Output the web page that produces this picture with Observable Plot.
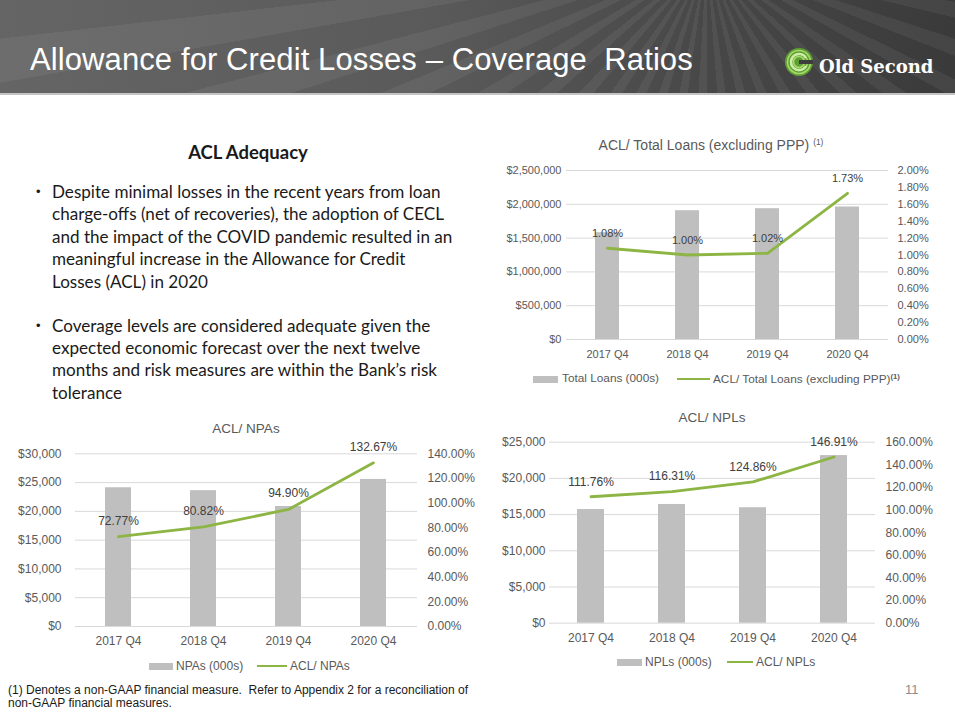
<!DOCTYPE html>
<html>
<head>
<meta charset="utf-8">
<script src="https://cdn.jsdelivr.net/npm/d3@7"></script>
<script src="https://cdn.jsdelivr.net/npm/@observablehq/plot@0.6"></script>
<style>
  html, body { margin: 0; padding: 0; }
  body { width: 955px; height: 716px; position: relative; overflow: hidden; background: #fff; font-family: "Liberation Sans", Arial, sans-serif; }
  .abs { position: absolute; }
  #header { left: 0; top: 0; width: 955px; height: 93px;
    background:
      repeating-conic-gradient(from 180deg at 74% -45%, rgba(255,255,255,0.055) 0deg 3.5deg, rgba(0,0,0,0.0) 3.5deg 8deg),
      linear-gradient(90deg, #656565 0%, #5a5a5a 45%, #474747 75%, #3a3a3a 100%);
  }
  #hline { left: 0; top: 93px; width: 955px; height: 2px; background: #c4c4c4; }
  #title { left: 30px; top: 43.8px; font-size: 31px; line-height: 1; color: #fff; white-space: nowrap; letter-spacing: 0.1px; }
  #logoText { left: 819px; top: 58px; font-family: "DejaVu Serif", serif; font-weight: bold; font-size: 18px; line-height: 1; color: #fff; white-space: nowrap; }
  .ctitle { transform: translate(-50%, -50%); line-height: 1; color: #595959; white-space: nowrap; }
  .ctitle sup { font-size: 0.6em; vertical-align: 0.6em; }
  .leg { line-height: 1; color: #595959; white-space: nowrap; transform: translateY(-50%); }
  .leg sup { font-size: 0.65em; font-weight: bold; vertical-align: 0.5em; }
  .txt { font-family: Lato, "Open Sans", sans-serif; color: #1a1a1a; white-space: nowrap; }
</style>
</head>
<body>
<div id="header" class="abs"></div>
<div id="hline" class="abs"></div>
<div id="title" class="abs">Allowance for Credit Losses – Coverage&nbsp; Ratios</div>
<svg class="abs" style="left:784px;top:47px" width="30" height="30" viewBox="0 0 30 30">
  <circle cx="15" cy="15" r="14" fill="#5e9f33"/>
  <circle cx="15" cy="15" r="11.5" fill="none" stroke="#a6d86e" stroke-width="1.6"/>
  <circle cx="15" cy="15" r="8.5" fill="none" stroke="#a6d86e" stroke-width="1.6"/>
  <circle cx="15" cy="15" r="5.5" fill="none" stroke="#a6d86e" stroke-width="1.6"/>
  <path d="M22 11 A8 8 0 1 0 22 19" fill="none" stroke="#cdeca6" stroke-width="2.4"/>
  <rect x="15" y="13" width="14" height="4" fill="#3d3d3d"/>
</svg>
<div id="logoText" class="abs">Old Second</div>

<div id="page"></div>

<div class="abs txt" style="left:38px;top:141px;width:420px;text-align:center;font-weight:bold;font-size:18.5px;line-height:22px;">ACL Adequacy</div>
<div id="bullets"></div>

<div class="abs" style="left:8px;top:684px;font-family:'Liberation Sans Narrow','Liberation Sans',Arial,sans-serif;font-size:12px;line-height:13px;color:#1a1a1a;white-space:nowrap;">(1) Denotes a non-GAAP financial measure.&nbsp; Refer to Appendix 2 for a reconciliation of<br>non-GAAP financial measures.</div>
<div class="abs" style="left:905px;top:683px;font-size:13px;line-height:1;color:#8c8c8c;">11</div>

<script>
// ---------- DATA ----------
const quarters = ["2017 Q4", "2018 Q4", "2019 Q4", "2020 Q4"];

const totalLoans = [1580000, 1905000, 1935000, 1960000];      // Total Loans (000s)
const aclLoansPct = [1.08, 1.00, 1.02, 1.73];                 // ACL/ Total Loans (excluding PPP)

const npas = [24100, 23600, 20850, 25550];                    // NPAs (000s)
const aclNpasPct = [72.77, 80.82, 94.90, 132.67];             // ACL/ NPAs

const npls = [15700, 16400, 15950, 23150];                    // NPLs (000s)
const aclNplsPct = [111.76, 116.31, 124.86, 146.91];          // ACL/ NPLs

const loansTicks = [0, 500000, 1000000, 1500000, 2000000, 2500000];
const loansPctTicks = [0, 0.2, 0.4, 0.6, 0.8, 1.0, 1.2, 1.4, 1.6, 1.8, 2.0];
const npaTicks = [0, 5000, 10000, 15000, 20000, 25000, 30000];
const npaPctTicks = [0, 20, 40, 60, 80, 100, 120, 140];
const nplTicks = [0, 5000, 10000, 15000, 20000, 25000];
const nplPctTicks = [0, 20, 40, 60, 80, 100, 120, 140, 160];

const bulletLines1 = [
  "Despite minimal losses in the recent years from loan",
  "charge-offs (net of recoveries), the adoption of CECL",
  "and the impact of the COVID pandemic resulted in an",
  "meaningful increase in the Allowance for Credit",
  "Losses (ACL) in 2020"
];
const bulletLines2 = [
  "Coverage levels are considered adequate given the",
  "expected economic forecast over the next twelve",
  "months and risk measures are within the Bank’s risk",
  "tolerance"
];

// ---------- STYLE ----------
const green = "#8db544";
const barGray = "#bfbfbf";
const gridGray = "#d9d9d9";
const axisText = "#595959";

// ---------- BULLET TEXT ----------
(function () {
  const c = document.createElement("canvas").getContext("2d");
  c.font = "17px Lato";
  const w = c.measureText(bulletLines1[2]).width;
  const fs = Math.max(14, Math.min(19, 17 * 401 / w));
  const host = document.getElementById("bullets");
  const groups = [[bulletLines1, 181], [bulletLines2, 314.5]];
  for (const [lines, top] of groups) {
    const b = document.createElement("div");
    b.className = "abs";
    b.style.cssText = `left:36px;top:${top}px;font-family:'Liberation Sans',Arial,sans-serif;font-size:13px;line-height:22.4px;color:#1a1a1a;`;
    b.textContent = "•";
    host.appendChild(b);
    const d = document.createElement("div");
    d.className = "abs txt";
    d.style.cssText = `left:52px;top:${top}px;font-size:${fs}px;line-height:22.4px;`;
    d.innerHTML = lines.join("<br>");
    host.appendChild(d);
  }
})();

// ---------- CHARTS ----------
const page = document.getElementById("page");

function place(el, left, top) {
  el.style.position = "absolute";
  el.style.left = left + "px";
  el.style.top = top + "px";
  page.appendChild(el);
}

function addDiv(html, cls, style) {
  const d = document.createElement("div");
  d.className = "abs " + cls;
  d.style.cssText = style;
  d.innerHTML = html;
  page.appendChild(d);
}

function chart(cfg) {
  const k = cfg.yMax / cfg.pctMax;
  const data = quarters.map((q, i) => ({ q, bar: cfg.bars[i], pct: cfg.pcts[i], yl: cfg.pcts[i] * k }));
  const fmtLeft = d => "$" + d3.format(",")(d);
  const svg = Plot.plot({
    width: cfg.width,
    height: cfg.height,
    marginLeft: cfg.mL, marginRight: cfg.mR, marginTop: cfg.mT, marginBottom: cfg.mB,
    x: { domain: quarters, paddingInner: cfg.padding, paddingOuter: cfg.padding / 2, axis: null, label: null },
    y: { domain: [0, cfg.yMax], axis: null, label: null },
    style: { fontFamily: "'Liberation Sans', Arial, sans-serif", fontSize: cfg.fontSize + "px", color: axisText, background: "transparent", overflow: "visible" },
    marks: [
      Plot.gridY(cfg.leftTicks, { stroke: gridGray, strokeOpacity: 1, strokeWidth: 1 }),
      Plot.barY(data, { x: "q", y: "bar", fill: barGray }),
      Plot.line(data, { x: "q", y: "yl", stroke: green, strokeWidth: 2.8 }),
      Plot.text(data, { x: "q", y: "yl", text: d => d.pct.toFixed(2) + "%", dy: -cfg.labelDy, fill: "#404040", fontSize: cfg.fontSize }),
      Plot.axisX({ tickSize: 0, tickPadding: cfg.xPad, fill: axisText, label: null }),
      Plot.axisY(cfg.leftTicks, { anchor: "left", tickSize: 0, tickPadding: cfg.yLPad, tickFormat: fmtLeft, fill: axisText, label: null }),
      Plot.axisY(cfg.pctTicks.map(v => v * k), { anchor: "right", tickSize: 0, tickPadding: cfg.yRPad, tickFormat: d => (d / k).toFixed(2) + "%", fill: axisText, label: null })
    ]
  });
  place(svg, cfg.left, cfg.top);

  // title
  addDiv(cfg.title, "ctitle", `left:${cfg.titleX}px;top:${cfg.titleY}px;font-size:${cfg.titleSize}px;`);
  // legend
  const L = cfg.legend;
  addDiv("", "", `left:${L.sw[0]}px;top:${L.y - 3.5}px;width:${L.sw[1] - L.sw[0]}px;height:7px;background:${barGray};`);
  addDiv(cfg.barName, "leg", `left:${L.t1}px;top:${L.y}px;font-size:${cfg.legSize}px;`);
  addDiv("", "", `left:${L.ln[0]}px;top:${L.y - 1.4}px;width:${L.ln[1] - L.ln[0]}px;height:2.8px;background:${green};`);
  addDiv(cfg.lineName, "leg", `left:${L.t2}px;top:${L.y}px;font-size:${cfg.legSize}px;`);
}

chart({
  left: 490, top: 160, width: 460, height: 200,
  mL: 76, mR: 62, mT: 10, mB: 21, padding: 0.7,
  bars: totalLoans, pcts: aclLoansPct, yMax: 2500000, pctMax: 2.0,
  leftTicks: loansTicks, pctTicks: loansPctTicks,
  xPad: 11, yLPad: 5, yRPad: 9, fontSize: 11, labelDy: 15,
  title: "ACL/ Total Loans (excluding PPP) <sup>(1)</sup>", titleX: 711, titleY: 145, titleSize: 14,
  barName: "Total Loans (000s)", lineName: "ACL/ Total Loans (excluding PPP)<sup>(1)</sup>",
  legSize: 11.8, legend: { y: 379, sw: [533, 558], t1: 562, ln: [677, 710], t2: 713 }
});

chart({
  left: 0, top: 440, width: 480, height: 210,
  mL: 75, mR: 63, mT: 13.3, mB: 24, padding: 0.69,
  bars: npas, pcts: aclNpasPct, yMax: 30000, pctMax: 140,
  leftTicks: npaTicks, pctTicks: npaPctTicks,
  xPad: 10, yLPad: 14, yRPad: 10, fontSize: 12, labelDy: 16,
  title: "ACL/ NPAs", titleX: 246, titleY: 429, titleSize: 13.5,
  barName: "NPAs (000s)", lineName: "ACL/ NPAs",
  legSize: 12, legend: { y: 666, sw: [149, 173], t1: 176, ln: [257, 287], t2: 290 }
});

chart({
  left: 480, top: 430, width: 475, height: 215,
  mL: 69, mR: 80, mT: 11.7, mB: 22.3, padding: 0.67,
  bars: npls, pcts: aclNplsPct, yMax: 25000, pctMax: 160,
  leftTicks: nplTicks, pctTicks: nplPctTicks,
  xPad: 10, yLPad: 4, yRPad: 10, fontSize: 12, labelDy: 15,
  title: "ACL/ NPLs", titleX: 712, titleY: 418, titleSize: 13.5,
  barName: "NPLs (000s)", lineName: "ACL/ NPLs",
  legSize: 12, legend: { y: 662, sw: [617, 642], t1: 645, ln: [727, 753], t2: 756 }
});
</script>
</body>
</html>
